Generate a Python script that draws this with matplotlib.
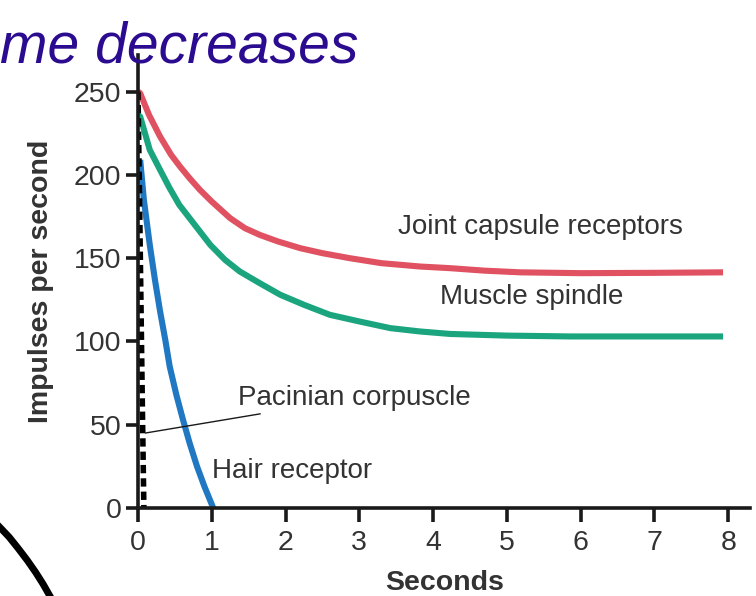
import numpy as np
import matplotlib.pyplot as plt

plt.rcParams['font.family'] = ['Liberation Sans', 'DejaVu Sans']

# values
joint_x = [0, 0.03, 0.15, 0.3, 0.45, 0.57, 0.7, 0.84, 1.0, 1.25, 1.45, 1.65, 1.9, 2.2,
           2.5, 2.87, 3.3, 3.82, 4.23, 4.7, 5.18, 6.0, 7.0, 7.93]
joint_y = [250, 249, 236, 223, 212, 205, 198, 191, 184, 174, 168, 164, 160, 156,
           153, 150, 147, 145, 144, 142.5, 141.5, 141, 141.2, 141.5]
spindle_x = [0, 0.03, 0.16, 0.3, 0.43, 0.56, 0.7, 0.84, 0.98, 1.18, 1.38, 1.65, 1.93,
             2.25, 2.6, 3.0, 3.42, 3.82, 4.23, 5.0, 5.86, 6.8, 7.93]
spindle_y = [236, 235, 215, 203, 192, 182, 174, 166, 158, 149, 142, 135, 128,
             122, 116, 112, 108, 106, 104.5, 103.5, 103, 103, 103]
hair_x = [0.03, 0.08, 0.16, 0.23, 0.3, 0.37, 0.43, 0.52, 0.61, 0.7, 0.8, 0.9, 1.02]
hair_y = [209, 185, 158, 137, 118, 101, 85, 68, 53, 39, 25, 13, 0]
pacini_x = [0.0, 0.02, 0.04, 0.06, 0.08]
pacini_y = [250, 190, 125, 60, 0]

xticks = [0, 1, 2, 3, 4, 5, 6, 7, 8]
yticks = [0, 50, 100, 150, 200, 250]

txt = '#333333'
fig = plt.figure(figsize=(7.56, 5.96), dpi=100)
ax = fig.add_axes([0.1825, 0.1477, 0.81, 0.76])

ax.plot(joint_x, joint_y, color='#e05262', lw=4.4, solid_capstyle='butt')
ax.plot(spindle_x, spindle_y, color='#1aa57f', lw=4.4, solid_capstyle='butt')
ax.plot(hair_x, hair_y, color='#1f78c1', lw=4.4, solid_capstyle='butt')
ax.plot(pacini_x, pacini_y, color='black', lw=4.0, ls=(0, (1.5, 0.9)))

ax.set_xlim(0, 8.3)
ax.set_ylim(0, 272)
ax.set_xticks(xticks)
ax.set_yticks(yticks)
for s in ['top', 'right']:
    ax.spines[s].set_visible(False)
for s in ['left', 'bottom']:
    ax.spines[s].set_linewidth(2.6)
    ax.spines[s].set_color('#1a1a1a')
ax.tick_params(direction='out', length=9, width=2.6, color='#1a1a1a',
               labelsize=20.5, labelcolor=txt, pad=3)
ax.tick_params(axis='x', length=10, pad=6)
ax.set_xlabel('Seconds', fontsize=20.5, fontweight='bold', color=txt, labelpad=10)
ax.set_ylabel('Impulses per second', fontsize=20.5, fontweight='bold', color=txt, labelpad=14)

ax.text(3.53, 161, 'Joint capsule receptors', fontsize=20, color=txt, va='bottom')
ax.text(4.1, 119, 'Muscle spindle', fontsize=20, color=txt, va='bottom')
ax.text(1.0, 22, 'Hair receptor', fontsize=20, color=txt, va='center')
ax.annotate('Pacinian corpuscle', xy=(0.1, 45), xytext=(1.36, 66),
            fontsize=20, color=txt, va='center',
            arrowprops=dict(arrowstyle='-', color='#1a1a1a', lw=1.0, shrinkA=0, shrinkB=0))

# handwritten notes over the figure
fig.text(0.0, 0.895, 'me decreases', fontsize=41, color='#2b0b8f',
         style='italic', ha='left', va='baseline')
arc_x = [0.0, 0.012, 0.024, 0.036, 0.047, 0.057, 0.066]
arc_y = [0.115, 0.099, 0.08, 0.06, 0.04, 0.02, 0.0]
fig.add_artist(plt.Line2D(arc_x, arc_y, color='black', lw=5))

fig.savefig('out.png', dpi=100)
